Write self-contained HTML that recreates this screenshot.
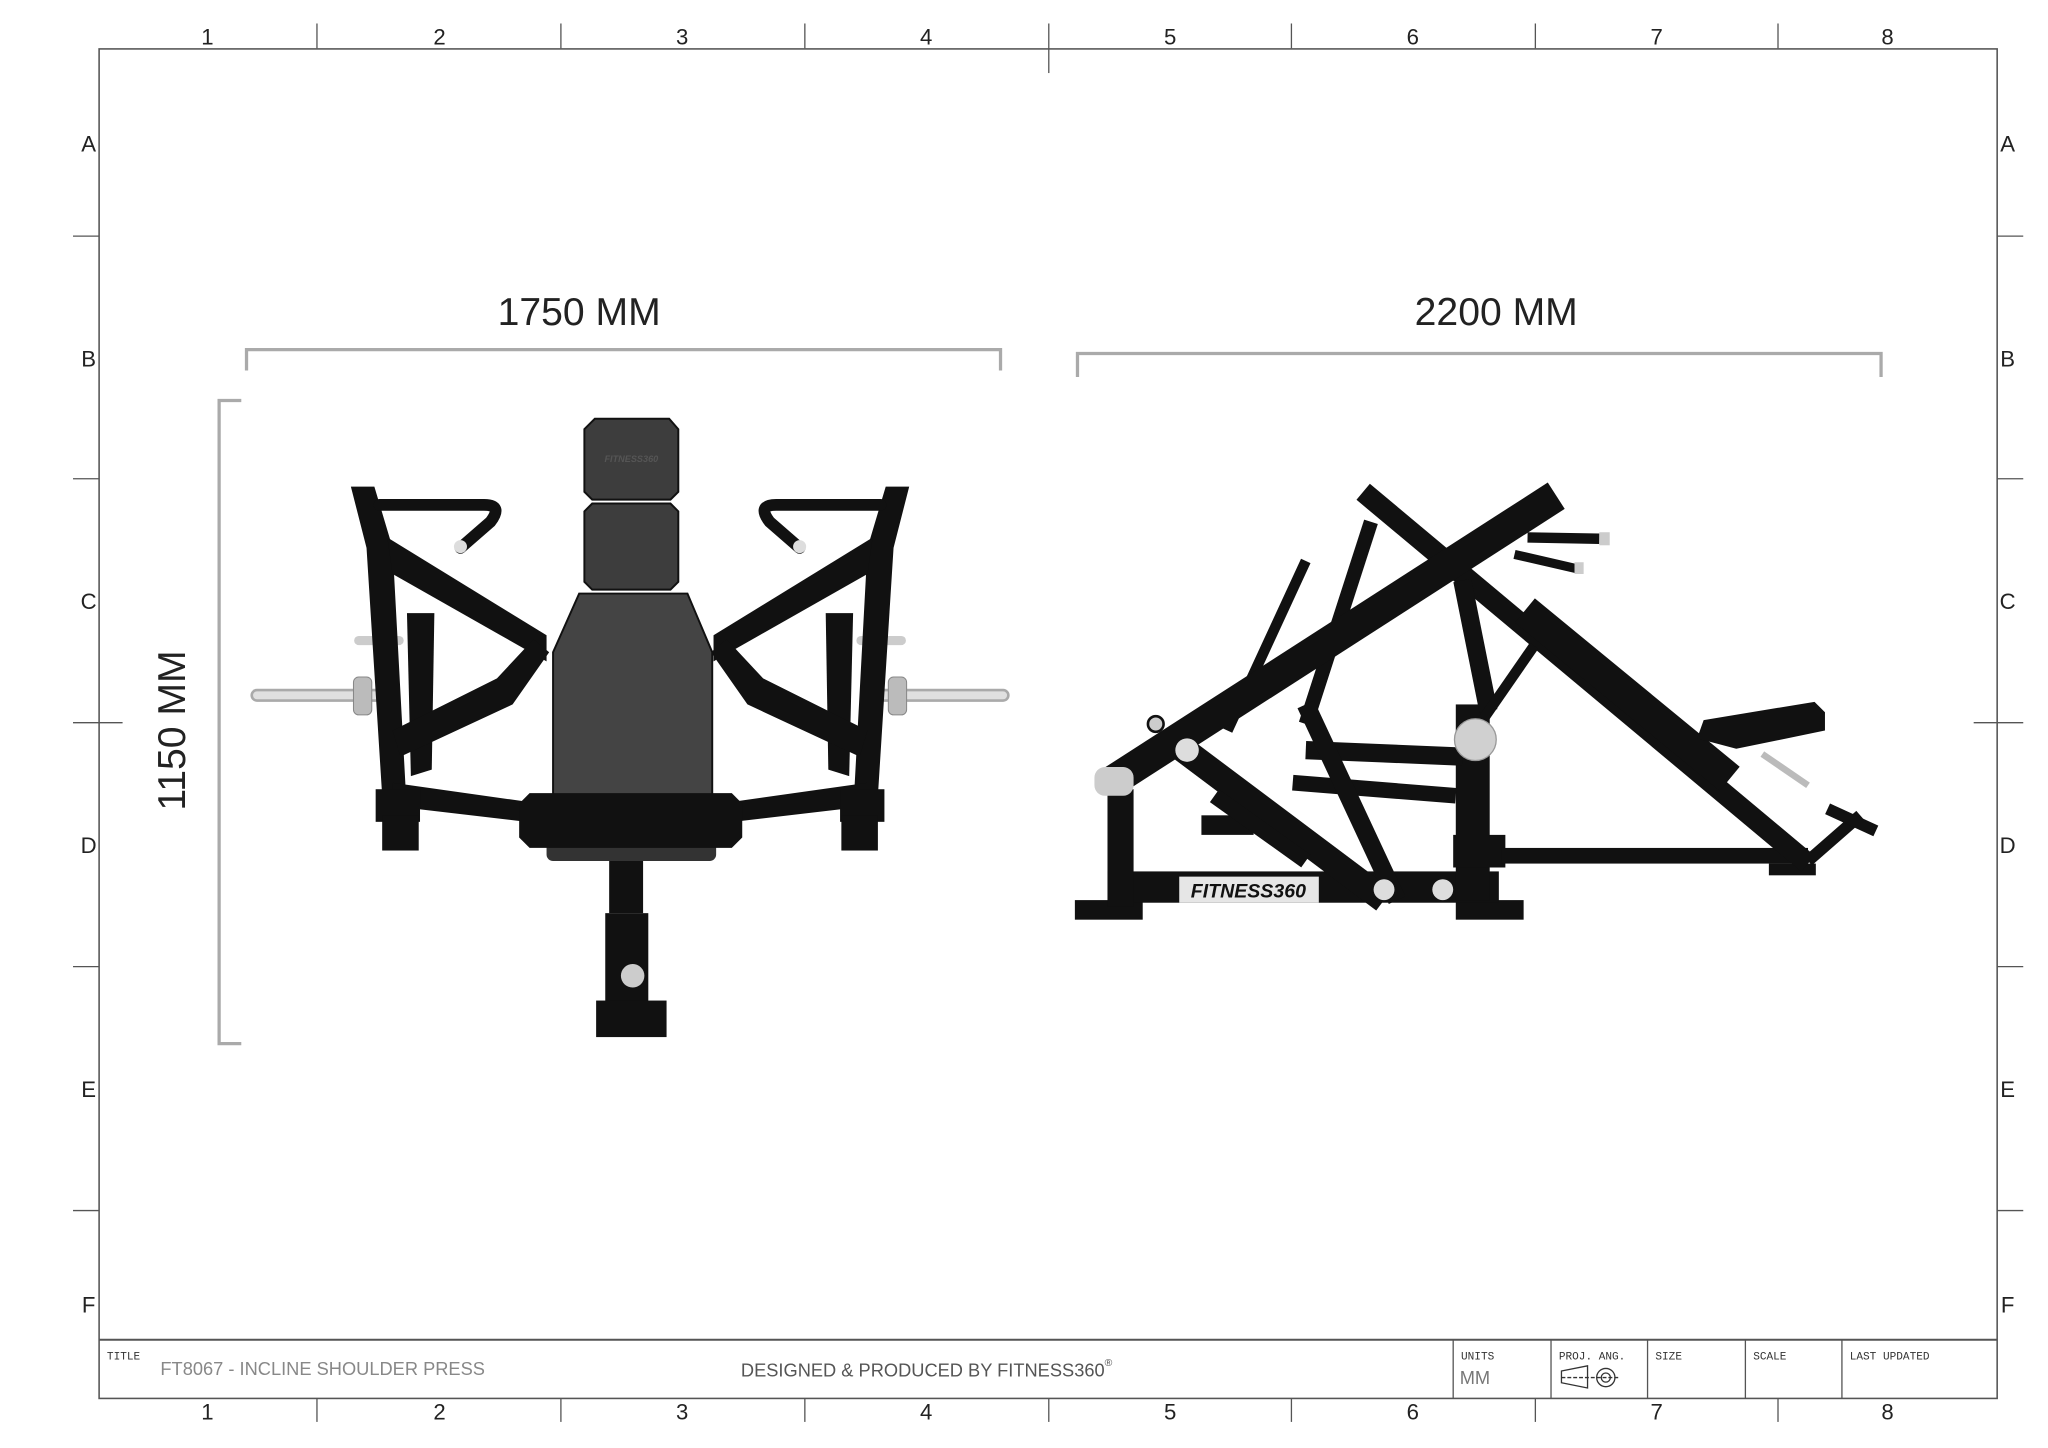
<!DOCTYPE html>
<html><head><meta charset="utf-8"><style>
html,body{margin:0;padding:0;background:#fff;}
svg{display:block;}
text{font-family:"Liberation Sans",sans-serif;}
.lbl{font-size:17px;fill:#222;text-anchor:middle;}
.sm{font-family:"Liberation Mono",monospace;font-size:8.5px;fill:#333;}
</style></head><body>
<svg width="2048" height="1448" viewBox="0 0 1568 1110" xmlns="http://www.w3.org/2000/svg">
<rect width="1568" height="1110" fill="#fff"/>
<!-- border -->
<rect x="75" y="37.5" width="1455" height="1034.5" fill="none" stroke="#555" stroke-width="1.2"/>
<line x1="75" y1="1027" x2="1530" y2="1027" stroke="#555" stroke-width="1.5"/>
<g stroke="#555" stroke-width="1">
<line x1="242" y1="18" x2="242" y2="37"/><line x1="429" y1="18" x2="429" y2="37"/><line x1="616" y1="18" x2="616" y2="37"/><line x1="803" y1="18" x2="803" y2="56"/><line x1="989" y1="18" x2="989" y2="37"/><line x1="1176" y1="18" x2="1176" y2="37"/><line x1="1362" y1="18" x2="1362" y2="37"/>
<line x1="242" y1="1072" x2="242" y2="1090"/><line x1="429" y1="1072" x2="429" y2="1090"/><line x1="616" y1="1072" x2="616" y2="1090"/><line x1="803" y1="1072" x2="803" y2="1090"/><line x1="989" y1="1072" x2="989" y2="1090"/><line x1="1176" y1="1072" x2="1176" y2="1090"/><line x1="1362" y1="1072" x2="1362" y2="1090"/>
<line x1="55" y1="181" x2="75" y2="181"/><line x1="55" y1="367" x2="75" y2="367"/><line x1="55" y1="554" x2="93" y2="554"/><line x1="55" y1="741" x2="75" y2="741"/><line x1="55" y1="928" x2="75" y2="928"/>
<line x1="1530" y1="181" x2="1550" y2="181"/><line x1="1530" y1="367" x2="1550" y2="367"/><line x1="1512" y1="554" x2="1550" y2="554"/><line x1="1530" y1="741" x2="1550" y2="741"/><line x1="1530" y1="928" x2="1550" y2="928"/>
<line x1="1113" y1="1027" x2="1113" y2="1072"/><line x1="1188" y1="1027" x2="1188" y2="1072"/><line x1="1262" y1="1027" x2="1262" y2="1072"/><line x1="1337" y1="1027" x2="1337" y2="1072"/><line x1="1411" y1="1027" x2="1411" y2="1072"/>
</g>
<g class="lbl">
<text x="158" y="34">1</text><text x="336" y="34">2</text><text x="522" y="34">3</text><text x="709" y="34">4</text><text x="896" y="34">5</text><text x="1082" y="34">6</text><text x="1269" y="34">7</text><text x="1446" y="34">8</text>
<text x="158" y="1088">1</text><text x="336" y="1088">2</text><text x="522" y="1088">3</text><text x="709" y="1088">4</text><text x="896" y="1088">5</text><text x="1082" y="1088">6</text><text x="1269" y="1088">7</text><text x="1446" y="1088">8</text>
<text x="67" y="116">A</text><text x="67" y="281">B</text><text x="67" y="467">C</text><text x="67" y="654">D</text><text x="67" y="841">E</text><text x="67" y="1006">F</text>
<text x="1538" y="116">A</text><text x="1538" y="281">B</text><text x="1538" y="467">C</text><text x="1538" y="654">D</text><text x="1538" y="841">E</text><text x="1538" y="1006">F</text>
</g>
<!-- title block text -->
<text class="sm" x="81" y="1042">TITLE</text>
<text x="122" y="1054" font-size="14" fill="#888">FT8067 - INCLINE SHOULDER PRESS</text>
<text x="567" y="1055" font-size="14" fill="#555">DESIGNED &amp; PRODUCED BY FITNESS360<tspan font-size="8" dy="-8">®</tspan></text>
<text class="sm" x="1119" y="1042">UNITS</text>
<text x="1118" y="1061" font-size="14" fill="#777">MM</text>
<text class="sm" x="1194" y="1042">PROJ. ANG.</text>
<text class="sm" x="1268" y="1042">SIZE</text>
<text class="sm" x="1343" y="1042">SCALE</text>
<text class="sm" x="1417" y="1042">LAST UPDATED</text>
<g stroke="#333" stroke-width="1" fill="none">
<path d="M1196 1051 L1216 1047 L1216 1064 L1196 1060 Z"/><line x1="1196" y1="1056" x2="1240" y2="1056" stroke-dasharray="3 1.5"/>
<circle cx="1230" cy="1056" r="7"/><circle cx="1230" cy="1056" r="3.5"/>
</g>
<!-- dimensions -->
<g stroke="#aaa" stroke-width="2.5" fill="none">
<path d="M188 284 V268 H766 V284"/>
<path d="M825 289 V271 H1441 V289"/>
<path d="M184 307 H167 V800 H184"/>
</g>
<text x="443" y="249" font-size="30" fill="#222" text-anchor="middle">1750 MM</text>
<text x="1146" y="249" font-size="30" fill="#222" text-anchor="middle">2200 MM</text>
<text transform="translate(141,560) rotate(-90)" font-size="30" fill="#222" text-anchor="middle">1150 MM</text>

<!-- FRONT VIEW -->
<g id="half">
<line x1="196" y1="533" x2="290" y2="533" stroke="#aaa" stroke-width="10" stroke-linecap="round"/>
<line x1="196" y1="533" x2="290" y2="533" stroke="#e0e0e0" stroke-width="6" stroke-linecap="round"/>
<line x1="274" y1="491" x2="305" y2="491" stroke="#ccc" stroke-width="7" stroke-linecap="round"/>
<rect x="270" y="519" width="14" height="29" rx="4" fill="#bbb" stroke="#888" stroke-width="0.8"/>
<g fill="#111">
<polygon points="268,373 286,373 300,420 310,605 292,610 280,420"/>
<polygon points="296,412 418,487 418,507 300,440"/>
<polygon points="311,470 332,470 330,590 314,595"/>
<polygon points="300,560 380,520 408,490 420,500 392,540 306,580"/>
<polygon points="300,600 420,617 420,632 300,618"/>
<rect x="287" y="605" width="34" height="25"/>
<rect x="292" y="625" width="28" height="27"/>
</g>
<path d="M290 387 H370 Q385 387 375 400 L352 420" stroke="#111" stroke-width="9" fill="none" stroke-linecap="round"/>
<circle cx="352" cy="419" r="5" fill="#ddd"/>
</g>
<use href="#half" transform="translate(964,0) scale(-1,1)"/>
<!-- seat post -->
<rect x="466" y="650" width="26" height="50" fill="#111"/>
<rect x="463" y="700" width="33" height="72" fill="#111"/>
<rect x="456" y="767" width="54" height="28" fill="#111"/>
<circle cx="484" cy="748" r="9" fill="#ccc"/>
<!-- pads -->
<path d="M455 321 H512 L519 329 V377 L513 383 H453 L447 377 V329 Z" fill="#3d3d3d" stroke="#111" stroke-width="1.5"/>
<text x="483" y="354" font-size="7" fill="#555" text-anchor="middle" font-weight="bold" font-style="italic">FITNESS360</text>
<path d="M453 386 H513 L519 392 V446 L513 452 H453 L447 446 V392 Z" fill="#3d3d3d" stroke="#111" stroke-width="1.5"/>
<path d="M443 455 H526 L545 500 V612 H423 V500 Z" fill="#444" stroke="#111" stroke-width="1.5"/>
<rect x="418" y="640" width="130" height="20" rx="5" fill="#333"/>
<path d="M405 608 H560 L568 616 V642 L560 650 H405 L397 642 V616 Z" fill="#111"/>

<!-- SIDE VIEW -->
<g fill="#111">
<rect x="823" y="690" width="52" height="15"/>
<rect x="1115" y="690" width="52" height="15"/>
<rect x="848" y="668" width="300" height="24"/>
<rect x="848" y="605" width="20" height="90"/>
<rect x="1115" y="540" width="26" height="150"/>
<rect x="1113" y="640" width="40" height="25"/>
<rect x="1150" y="650" width="235" height="12"/>
<rect x="1355" y="662" width="36" height="9"/>
<rect x="920" y="625" width="40" height="15"/>
</g>
<g stroke="#111" stroke-linecap="butt" fill="none">
<line x1="1044" y1="377" x2="1385" y2="662" stroke-width="16"/>
<line x1="1050" y1="400" x2="1000" y2="555" stroke-width="11"/>
<line x1="1000" y1="430" x2="940" y2="560" stroke-width="8"/>
<line x1="1120" y1="445" x2="1140" y2="545" stroke-width="14"/>
<line x1="1130" y1="560" x2="1175" y2="495" stroke-width="8"/>
<line x1="900" y1="570" x2="1060" y2="690" stroke-width="20"/>
<line x1="930" y1="610" x2="1000" y2="660" stroke-width="12"/>
<line x1="1000" y1="575" x2="1120" y2="580" stroke-width="14"/>
<line x1="990" y1="600" x2="1115" y2="610" stroke-width="12"/>
<line x1="1000" y1="540" x2="1070" y2="690" stroke-width="14"/>
<line x1="850" y1="600" x2="1192" y2="380" stroke-width="24"/>
<line x1="1170" y1="412" x2="1225" y2="413" stroke-width="8"/>
<line x1="1160" y1="425" x2="1208" y2="436" stroke-width="7"/>
<line x1="1168" y1="468" x2="1325" y2="597" stroke-width="24"/>
<line x1="1385" y1="660" x2="1425" y2="625" stroke-width="9"/>
<line x1="1400" y1="620" x2="1437" y2="637" stroke-width="9"/>
</g>
<line x1="1350" y1="578" x2="1385" y2="602" stroke="#bbb" stroke-width="5"/>
<path d="M1305 552 L1390 538 L1398 546 V560 L1330 574 L1300 566 Z" fill="#111"/>
<rect x="1225" y="408" width="8" height="10" fill="#ccc"/>
<rect x="1206" y="431" width="7" height="9" fill="#ccc"/>
<circle cx="1130" cy="567" r="16" fill="#d0d0d0" stroke="#999"/>
<circle cx="909" cy="575" r="9" fill="#ddd"/>
<circle cx="885" cy="555" r="6" fill="#ccc" stroke="#111" stroke-width="2"/>
<rect x="838" y="588" width="30" height="22" rx="8" fill="#ccc"/>
<circle cx="1060" cy="682" r="8" fill="#ddd"/>
<circle cx="1105" cy="682" r="8" fill="#ddd"/>
<rect x="903" y="672" width="107" height="20" fill="#e6e6e6"/>
<text x="956" y="688" font-size="15" font-weight="bold" font-style="italic" fill="#111" text-anchor="middle">FITNESS360</text>
</svg>
</body></html>
